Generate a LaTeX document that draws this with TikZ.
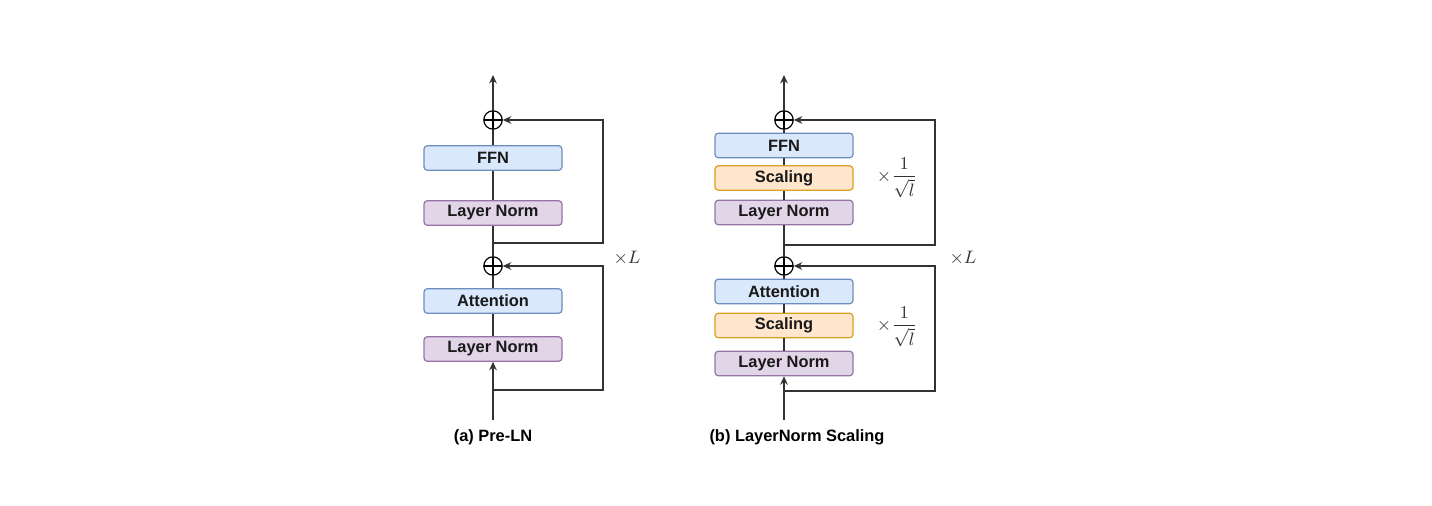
\documentclass[tikz,border=0pt]{standalone}
\usepackage{fontspec}
\setsansfont{Liberation Sans}
\usetikzlibrary{arrows.meta}
\definecolor{bluefill}{HTML}{DAE8FC}
\definecolor{bluedraw}{HTML}{6C8EBF}
\definecolor{purpfill}{HTML}{E1D5E7}
\definecolor{purpdraw}{HTML}{9673A6}
\definecolor{orfill}{HTML}{FFE6CC}
\definecolor{ordraw}{HTML}{D6A21E}
\definecolor{linec}{HTML}{333333}
\tikzset{
  blk/.style={rounded corners=1.6pt, line width=0.6pt, minimum width=69pt, minimum height=12.2pt, inner sep=0pt,
    font=\sffamily\bfseries\fontsize{8.2}{9}\selectfont, text=black!90},
  bluebox/.style={blk, fill=bluefill, draw=bluedraw},
  purpbox/.style={blk, fill=purpfill, draw=purpdraw},
  orbox/.style={blk, fill=orfill, draw=ordraw},
  addop/.style={circle, draw=black, line width=0.6pt, minimum size=9.2pt, inner sep=0pt,
    path picture={\draw[line width=0.6pt] (path picture bounding box.north) -- (path picture bounding box.south)
      (path picture bounding box.west) -- (path picture bounding box.east);}},
  conn/.style={draw=linec, line width=0.75pt},
  arr/.style={conn, -{Stealth[length=4.2pt,width=3.8pt]}},
  captxt/.style={font=\sffamily\bfseries\fontsize{8.2}{9}\selectfont},
  mathlbl/.style={font=\fontsize{9.5}{11}\selectfont, text=black!80, inner sep=0pt},
}
\begin{document}
\begin{tikzpicture}[x=0.5pt,y=-0.5pt]
\useasboundingbox (0,0) rectangle (1432,506);
% ---------- Panel (a) ----------
\coordinate (aTop) at (493,75);
\node[addop] (aP2) at (493,120) {};
\node[bluebox] (aFFN) at (493,158) {FFN};
\node[purpbox] (aLN2) at (493,213) {Layer Norm};
\coordinate (aS2) at (493,243);
\coordinate (aR2b) at (603,243);
\coordinate (aR2t) at (603,120);
\node[addop] (aP1) at (493,266) {};
\node[bluebox] (aAtt) at (493,301) {Attention};
\node[purpbox] (aLN1) at (493,349) {Layer Norm};
\coordinate (aS1) at (493,390);
\coordinate (aR1b) at (603,390);
\coordinate (aR1t) at (603,266);
\coordinate (aIn) at (493,420);
\node[captxt] (aCap) at (493,437) {(a) Pre-LN};
\node[mathlbl] (aL) at (627,258) {$\times L$};

\draw[arr] (aIn) -- (aLN1.south);
\draw[conn] (aLN1.north) -- (aAtt.south);
\draw[conn] (aAtt.north) -- (aP1.south);
\draw[conn] (aP1.north) -- (aLN2.south);
\draw[conn] (aLN2.north) -- (aFFN.south);
\draw[conn] (aFFN.north) -- (aP2.south);
\draw[arr] (aP2.north) -- (aTop);
\draw[arr] (aS1) -- (aR1b) -- (aR1t) -- (aP1.east);
\draw[arr] (aS2) -- (aR2b) -- (aR2t) -- (aP2.east);

% ---------- Panel (b) ----------
\coordinate (bTop) at (784,75);
\node[addop] (bP2) at (784,120) {};
\node[bluebox] (bFFN) at (784,145.5) {FFN};
\node[orbox] (bSc2) at (784,178) {Scaling};
\node[purpbox] (bLN2) at (784,212.5) {Layer Norm};
\coordinate (bS2) at (784,245);
\coordinate (bR2b) at (935,245);
\coordinate (bR2t) at (935,120);
\node[addop] (bP1) at (784,266) {};
\node[bluebox] (bAtt) at (784,291.5) {Attention};
\node[orbox] (bSc1) at (784,325.5) {Scaling};
\node[purpbox] (bLN1) at (784,363.5) {Layer Norm};
\coordinate (bS1) at (784,391);
\coordinate (bR1b) at (935,391);
\coordinate (bR1t) at (935,266);
\coordinate (bIn) at (784,420);
\node[captxt] (bCap) at (797,437) {(b) LayerNorm Scaling};
\node[mathlbl] (bL) at (963,258) {$\times L$};
\node[mathlbl] (bK2) at (897,178) {$\displaystyle\times\frac{1}{\sqrt{l}}$};
\node[mathlbl] (bK1) at (897,327) {$\displaystyle\times\frac{1}{\sqrt{l}}$};

\draw[arr] (bIn) -- (bLN1.south);
\draw[conn] (bLN1.north) -- (bSc1.south);
\draw[conn] (bSc1.north) -- (bAtt.south);
\draw[conn] (bAtt.north) -- (bP1.south);
\draw[conn] (bP1.north) -- (bLN2.south);
\draw[conn] (bLN2.north) -- (bSc2.south);
\draw[conn] (bSc2.north) -- (bFFN.south);
\draw[conn] (bFFN.north) -- (bP2.south);
\draw[arr] (bP2.north) -- (bTop);
\draw[arr] (bS1) -- (bR1b) -- (bR1t) -- (bP1.east);
\draw[arr] (bS2) -- (bR2b) -- (bR2t) -- (bP2.east);
\end{tikzpicture}
\end{document}
